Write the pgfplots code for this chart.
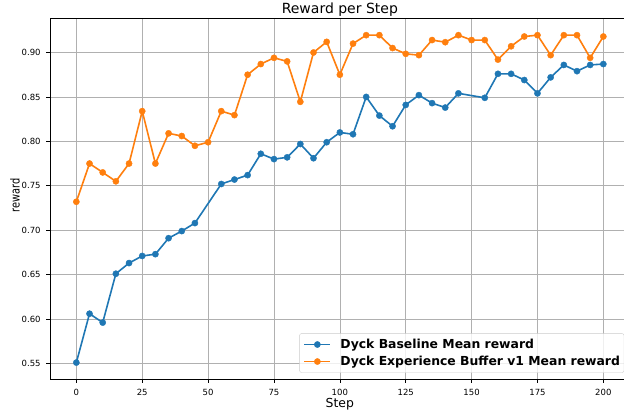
\documentclass[border=0pt]{standalone}
\usepackage{fontspec}
\setmainfont{DejaVu Sans}
\usepackage{pgfplots}
\pgfplotsset{compat=1.18}
\definecolor{mblue}{HTML}{1F77B4}
\definecolor{morange}{HTML}{FF7F0E}
\definecolor{gridc}{HTML}{B0B0B0}
\begin{document}
\begin{tikzpicture}
\path[use as bounding box] (-50pt,-31pt) rectangle (574pt,379pt);
\clip (-50pt,-31pt) rectangle (574pt,379pt);
\begin{axis}[
  at={(0pt,0pt)}, anchor=south west,
  scale only axis, width=579.7pt, height=360.7pt,
  xmin=-10, xmax=210, ymin=0.5325, ymax=0.9385,
  xtick={0,25,50,75,100,125,150,175,200},
  ytick={0.55,0.6,0.65,0.7,0.75,0.8,0.85,0.9},
  yticklabel style={/pgf/number format/fixed, /pgf/number format/fixed zerofill, /pgf/number format/precision=2},
  /pgf/number format/assume math mode=true,
  axis line style={black, line width=0.7pt},
  grid=major, major grid style={gridc, line width=0.7pt},
  tick align=outside, tick pos=left, major tick length=3.5pt,
  tick style={black, line width=0.7pt},
  ticklabel style={font=\fontsize{8.5}{10}\selectfont},
  xticklabel style={anchor=base, yshift=-13pt, inner sep=0pt},
  yticklabel style={anchor=east, xshift=-5.7pt, inner sep=0pt},
  every axis title shift=0pt,
  title={Reward per Step},
  title style={at={(axis description cs:0.5,1)}, anchor=base, yshift=4.8pt, inner sep=0pt, font=\fontsize{14}{16}\selectfont},
  xlabel={Step},
  xlabel style={at={(axis description cs:0.5,0)}, anchor=base, yshift=-28.3pt, inner sep=0pt, font=\fontsize{12.4}{14}\selectfont},
  ylabel={\scalebox{0.79}[1]{reward}},
  ylabel style={at={(axis description cs:-0.0604,0.509)}, anchor=center, inner sep=0pt, font=\fontsize{12.4}{14}\selectfont},
  legend style={at={(axis description cs:1,0)}, anchor=south east, xshift=-5.5pt, yshift=6.3pt,
    font=\bfseries\fontsize{12.4}{14}\selectfont, draw=black!20, rounded corners=2pt,
    fill=white, fill opacity=0.8, text opacity=1, inner xsep=4pt, inner ysep=5.5pt,
    nodes={inner sep=0pt}, row sep=6.1pt, column sep=9.3pt},
  legend cell align=left,
  legend image code/.code={\draw[mark repeat=2,mark phase=2,#1, draw opacity=1, fill opacity=1, line width=1.6pt] plot coordinates {(0pt,0pt) (13pt,0pt) (26pt,0pt)};},
]
\addplot[mblue, line width=1.6pt, mark=*, mark size=3.1pt, mark options={solid, fill=mblue, draw=mblue, line width=0.4pt}] coordinates {
(0,0.551) (5,0.606) (10,0.596) (15,0.651) (20,0.663) (25,0.671) (30,0.673) (35,0.691) (40,0.699) (45,0.708)
(55,0.752) (60,0.757) (65,0.762) (70,0.786) (75,0.780) (80,0.782) (85,0.797) (90,0.781) (95,0.799) (100,0.810)
(105,0.808) (110,0.850) (115,0.829) (120,0.817) (125,0.841) (130,0.852) (135,0.843) (140,0.838) (145,0.854)
(155,0.849) (160,0.876) (165,0.876) (170,0.869) (175,0.854) (180,0.872) (185,0.886) (190,0.879) (195,0.886) (200,0.887)
};
\addlegendentry{Dyck Baseline Mean reward}
\addplot[morange, line width=1.6pt, mark=*, mark size=3.1pt, mark options={solid, fill=morange, draw=morange, line width=0.4pt}] coordinates {
(0,0.732) (5,0.775) (10,0.765) (15,0.755) (20,0.775) (25,0.834) (30,0.775) (35,0.809) (40,0.806) (45,0.795)
(50,0.799) (55,0.834) (60,0.8295) (65,0.875) (70,0.887) (75,0.894) (80,0.890) (85,0.8445) (90,0.900) (95,0.912)
(100,0.875) (105,0.910) (110,0.9195) (115,0.9195) (120,0.905) (125,0.8985) (130,0.897) (135,0.914) (140,0.9116)
(145,0.9195) (150,0.914) (155,0.914) (160,0.892) (165,0.907) (170,0.918) (175,0.9195) (180,0.897) (185,0.9195)
(190,0.9195) (195,0.894) (200,0.918)
};
\addlegendentry{Dyck Experience Buffer v1 Mean reward}
\end{axis}
\end{tikzpicture}
\end{document}
